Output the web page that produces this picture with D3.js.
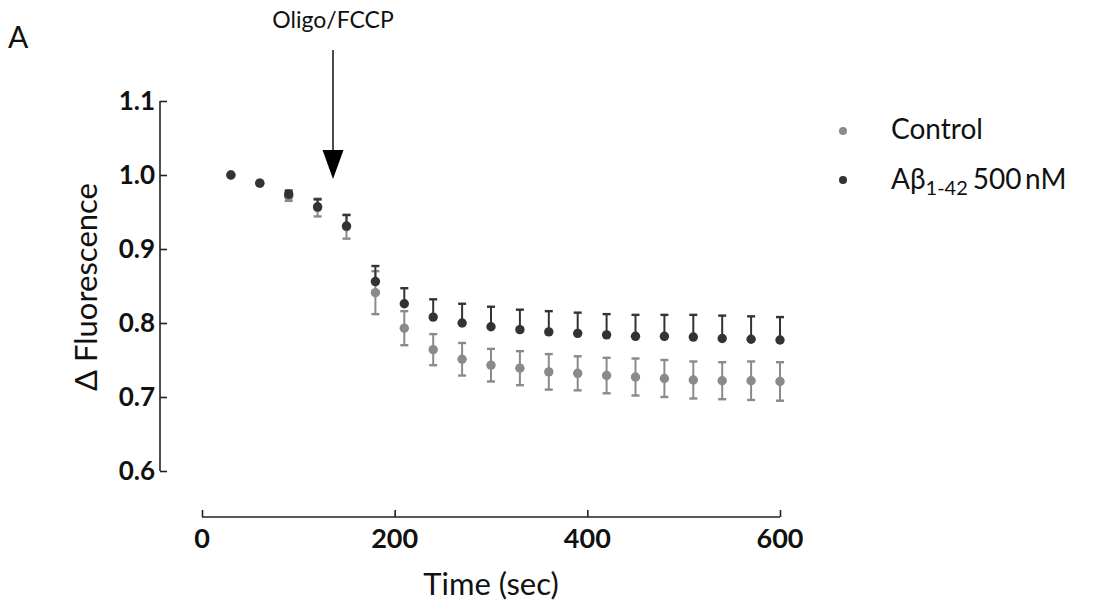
<!DOCTYPE html>
<html>
<head>
<meta charset="utf-8">
<script src="https://cdn.jsdelivr.net/npm/d3@7/dist/d3.min.js"></script>
<style>
  body { margin: 0; background: #fff; }
  svg { display: block; font-family: Lato, "Open Sans", sans-serif; }
</style>
</head>
<body>
<svg id="chart" width="1117" height="609"></svg>
<script>
'use strict';
// values
var times = [30, 60, 90, 120, 150, 180, 210, 240, 270, 300, 330, 360, 390, 420, 450, 480, 510, 540, 570, 600];
var control = [1.000, 0.989, 0.971, 0.956, 0.930, 0.841, 0.793, 0.764, 0.751, 0.743, 0.739, 0.734, 0.732, 0.729, 0.727, 0.725, 0.723, 0.722, 0.722, 0.721];
var controlErr = [0, 0.002, 0.006, 0.012, 0.016, 0.029, 0.023, 0.021, 0.022, 0.022, 0.023, 0.024, 0.023, 0.024, 0.025, 0.025, 0.025, 0.025, 0.026, 0.026];
var abeta = [1.000, 0.989, 0.974, 0.957, 0.931, 0.856, 0.826, 0.808, 0.800, 0.795, 0.791, 0.788, 0.786, 0.784, 0.782, 0.782, 0.781, 0.779, 0.778, 0.777];
var abetaErr = [0, 0.002, 0.005, 0.010, 0.015, 0.021, 0.021, 0.024, 0.026, 0.027, 0.027, 0.028, 0.028, 0.028, 0.029, 0.029, 0.030, 0.031, 0.031, 0.031];
var xTicks = [0, 200, 400, 600];
var yTicks = [0.6, 0.7, 0.8, 0.9, 1.0, 1.1];
var arrowTime = 136;

var grey = '#8a8a8a', dark = '#333333';

var svg = d3.select('#chart');
svg.append('rect').attr('width', 1117).attr('height', 609).attr('fill', '#fff');

var x = d3.scaleLinear().domain([0, 600]).range([202, 780]);
var y = d3.scaleLinear().domain([0.6, 1.1]).range([471, 101]);

// axes (offset, Prism style)
var yAxis = svg.append('g').attr('transform', 'translate(160,0)')
  .call(d3.axisRight(y).tickValues(yTicks).tickSize(7).tickFormat(''));
var xAxis = svg.append('g').attr('transform', 'translate(0,517)')
  .call(d3.axisTop(x).tickValues(xTicks).tickSize(7).tickFormat(''));
svg.selectAll('.domain, .tick line').attr('stroke', '#222').attr('stroke-width', 1.6);
yAxis.select('.domain').attr('d', 'M0,' + y(1.1) + 'V' + y(0.6));
xAxis.select('.domain').attr('d', 'M' + x(0) + ',0H' + x(600));

svg.selectAll('.ytl').data(yTicks).enter().append('text')
  .attr('x', 155).attr('y', function(d) { return y(d); })
  .attr('dy', '0.36em').attr('text-anchor', 'end')
  .attr('font-size', 26).attr('font-weight', 'bold').attr('fill', '#111')
  .text(function(d) { return d.toFixed(1); });

svg.selectAll('.xtl').data(xTicks).enter().append('text')
  .attr('x', function(d) { return x(d); }).attr('y', 548)
  .attr('text-anchor', 'middle')
  .attr('font-size', 27).attr('font-weight', 'bold').attr('fill', '#111')
  .text(function(d) { return d; });

svg.append('text').attr('x', 491).attr('y', 595).attr('text-anchor', 'middle')
  .attr('font-size', 31).attr('fill', '#111').text('Time (sec)');

svg.append('text').attr('transform', 'translate(97,287) rotate(-90)')
  .attr('text-anchor', 'middle').attr('font-size', 31).attr('fill', '#111')
  .text('\u0394 Fluorescence');

svg.append('text').attr('x', 8).attr('y', 48).attr('font-size', 30).attr('fill', '#111').text('A');

// arrow annotation
svg.append('text').attr('x', x(arrowTime)).attr('y', 28).attr('text-anchor', 'middle')
  .attr('font-size', 23).attr('fill', '#111').text('Oligo/FCCP');
svg.append('line').attr('x1', x(arrowTime)).attr('x2', x(arrowTime))
  .attr('y1', 50).attr('y2', 152).attr('stroke', '#111').attr('stroke-width', 1.5);
svg.append('path')
  .attr('d', 'M' + (x(arrowTime) - 10.5) + ',150L' + (x(arrowTime) + 10.5) + ',150L' + x(arrowTime) + ',179Z')
  .attr('fill', '#000');

// series
function drawSeries(vals, errs, color, up, down) {
  var g = svg.append('g');
  var pts = times.map(function(t, i) { return { t: t, v: vals[i], e: errs[i] }; });
  var bars = g.selectAll('.eb').data(pts.filter(function(d) { return d.e > 0.003; })).enter().append('g')
    .attr('stroke', color).attr('stroke-width', 2);
  bars.append('line')
    .attr('x1', function(d) { return x(d.t); }).attr('x2', function(d) { return x(d.t); })
    .attr('y1', function(d) { return y(d.v + (up ? d.e : 0)); })
    .attr('y2', function(d) { return y(d.v - (down ? d.e : 0)); });
  if (up) bars.append('line')
    .attr('x1', function(d) { return x(d.t) - 4; }).attr('x2', function(d) { return x(d.t) + 4; })
    .attr('y1', function(d) { return y(d.v + d.e); }).attr('y2', function(d) { return y(d.v + d.e); })
    .attr('stroke-width', 2.4);
  if (down) bars.append('line')
    .attr('x1', function(d) { return x(d.t) - 4; }).attr('x2', function(d) { return x(d.t) + 4; })
    .attr('y1', function(d) { return y(d.v - d.e); }).attr('y2', function(d) { return y(d.v - d.e); })
    .attr('stroke-width', 2.4);
  g.selectAll('circle').data(pts).enter().append('circle')
    .attr('cx', function(d) { return x(d.t); }).attr('cy', function(d) { return y(d.v); })
    .attr('r', 4.7).attr('fill', color);
}
drawSeries(control, controlErr, grey, true, true);
drawSeries(abeta, abetaErr, dark, true, false);

// legend
var legend = svg.append('g');
legend.append('circle').attr('cx', 843).attr('cy', 131).attr('r', 4).attr('fill', grey);
legend.append('text').attr('x', 891).attr('y', 139).attr('font-size', 28).attr('fill', '#111').text('Control');
legend.append('circle').attr('cx', 843).attr('cy', 180).attr('r', 4).attr('fill', dark);
var lt = legend.append('text').attr('x', 891).attr('y', 189).attr('font-size', 28).attr('fill', '#111');
lt.append('tspan').text('A\u03b2');
lt.append('tspan').attr('font-size', 20).attr('dy', 6).text('1-42');
lt.append('tspan').attr('dy', -6).attr('dx', 5).text('500\u2009nM');
</script>
</body>
</html>
